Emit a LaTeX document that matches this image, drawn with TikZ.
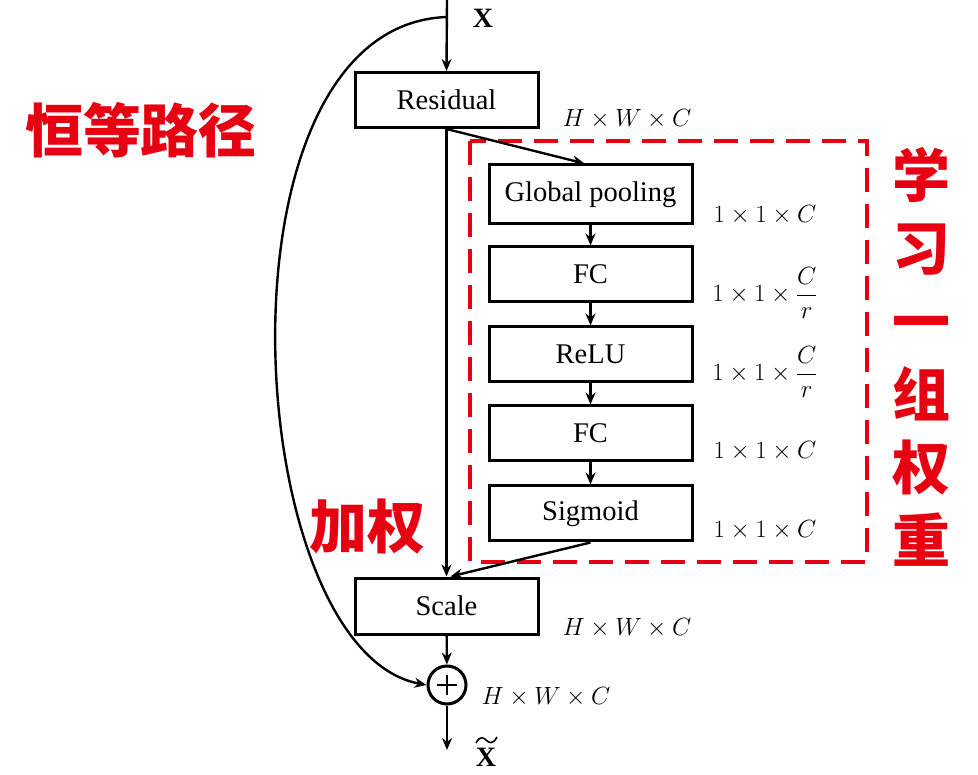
\documentclass[tikz,border=0pt]{standalone}
\usepackage{fontspec}
\setmainfont{Liberation Serif}
\newfontfamily\cjk{Noto Sans CJK SC}
\usetikzlibrary{arrows.meta}
\definecolor{myred}{RGB}{230,0,18}
\begin{document}
\begin{tikzpicture}[x=1pt,y=-1pt,
  blk/.style={draw,line width=3pt,minimum height=55pt,inner sep=0pt,font=\fontsize{28.5}{30}\selectfont},
  wide/.style={blk,minimum width=183pt},
  narrow/.style={blk,minimum width=203pt},
  conn/.style={line width=2.4pt,-{Stealth[length=12pt,width=10pt]}},
  dim/.style={font=\fontsize{24}{28}\selectfont,inner sep=1pt},
  cn/.style={text=myred,font=\cjk\bfseries\fontsize{58}{73}\selectfont,align=center}]
\useasboundingbox (0,0) rectangle (978,775);
\coordinate (top) at (447,0);
\coordinate (tap) at (447,17);
\coordinate (out) at (447,750);
\node[wide] (res) at (446.5,100) {Residual};
\node[narrow,minimum height=59pt] (gp) at (590.5,194.5) {Global pooling};
\node[narrow] (fc1) at (590.5,274.5) {FC};
\node[narrow] (relu) at (590.5,354.5) {ReLU};
\node[narrow] (fc2) at (590.5,433.5) {FC};
\node[narrow] (sig) at (590.5,513.5) {Sigmoid};
\node[wide,minimum height=56pt] (scale) at (446.5,606) {Scale};
\node[draw,circle,line width=3pt,minimum size=38pt,inner sep=0pt] (plus) at (447,685) {};
\draw[line width=1.4pt] ([xshift=-10pt]plus.center) -- ([xshift=10pt]plus.center)
  ([yshift=-10pt]plus.center) -- ([yshift=10pt]plus.center);
\draw[myred,line width=3.5pt,dash pattern=on 24pt off 12pt] (470,141) rectangle (867,562);
% connectors
\draw[conn] (top) -- (res.north);
\draw[conn] (res.south) -- (scale.north);
\draw[conn] (res.south) -- ([xshift=-6pt]gp.north);
\draw[conn] (gp) -- (fc1);
\draw[conn] (fc1) -- (relu);
\draw[conn] (relu) -- (fc2);
\draw[conn] (fc2) -- (sig);
\draw[conn] (sig.south) -- ([xshift=4pt]scale.north);
\draw[conn] (scale) -- (plus);
\draw[conn] (plus) -- (out);
\draw[conn] (tap) .. controls (205,25) and (240,650) .. (plus.west);
% labels
\node[font=\fontsize{28}{30}\selectfont\bfseries,inner sep=1pt] (xin) at (483,18) {X};
\node[font=\fontsize{28}{30}\selectfont\bfseries,inner sep=0pt] (xout) at (486,757) {X};
\draw[line width=1.6pt] (476,743) .. controls (480,735) and (484,738) .. (486,740)
  .. controls (489,743) and (493,745) .. (497,737);
\node[dim] (d0) at (627,119) {$H\times W\times C$};
\node[dim] (d1) at (765,215) {$1\times 1\times C$};
\node[dim] (d2) at (765,293) {$1\times 1\times \displaystyle\frac{C}{r}$};
\node[dim] (d3) at (765,372) {$1\times 1\times \displaystyle\frac{C}{r}$};
\node[dim] (d4) at (765,451) {$1\times 1\times C$};
\node[dim] (d5) at (765,530) {$1\times 1\times C$};
\node[dim] (d6) at (627,628) {$H\times W\times C$};
\node[dim] (d7) at (546,697) {$H\times W\times C$};
\node[cn] (c1) at (141,130) {恒等路径};
\node[cn] (c2) at (367,527) {加权};
\node[cn] (c3) at (921,357) {学\\习\\一\\组\\权\\重};
\end{tikzpicture}
\end{document}
